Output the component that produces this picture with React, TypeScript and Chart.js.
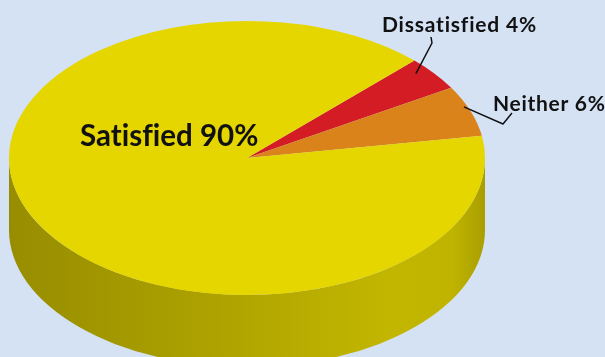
import { useEffect, useRef } from "react";
import { Chart, registerables } from "chart.js";

Chart.register(...registerables);

// ---- data ----
const categories = ["Dissatisfied", "Neither", "Satisfied"];
const percentages = [4, 6, 90];
const labelTexts = ["Dissatisfied 4%", "Neither 6%", "Satisfied 90%"];

// ---- styles / layout ----
const sliceColors = ["#D31C24", "#DA831B", "#E5D600"];
const BG = "#D4E2F4";
const W = 605;
const H = 357;
const ELLIPSE = { cx: 247, cy: 158, rx: 238, ry: 137, depth: 72 };
const ROTATION = 44.7;
// side shading factors along x (left -> right)
const SIDE_STOPS: [number, number][] = [
  [0, 0.66],
  [0.45, 0.76],
  [0.8, 0.85],
  [0.93, 0.84],
  [1, 0.74],
];
// label styling (index matches categories)
const LABEL_FONT_SIZE = [21, 21, 29.5];
const LABEL_SPACING = [0.8, 0.7, 0];
const LABEL_POS: [number, number][] = [
  [382, 32],
  [493, 111],
  [80, 146],
];
// callouts: [angle fraction in slice, radius fraction], then extra polyline points
const CALLOUTS: (null | { af: number; rf: number; pts: [number, number][] })[] = [
  { af: 0.3, rf: 0.94, pts: [[432, 43], [431, 37]] },
  { af: 0.4, rf: 0.985, pts: [[503, 124], [512, 113]] },
  null,
];

function hexToRgb(h: string) {
  const n = parseInt(h.slice(1), 16);
  return [(n >> 16) & 255, (n >> 8) & 255, n & 255];
}

const pie3d = {
  id: "pie3d",
  beforeDatasetsDraw(chart: any) {
    const meta = chart.getDatasetMeta(0);
    const arcs = meta.data;
    if (!arcs.length) return;
    const ctx: CanvasRenderingContext2D = chart.ctx;
    const { cx, cy, rx, ry, depth } = ELLIPSE;
    arcs.forEach((arc: any, i: number) => {
      const { startAngle, endAngle } = arc.getProps(["startAngle", "endAngle"]);
      const [r, g, b] = hexToRgb(sliceColors[i]);
      const grad = ctx.createLinearGradient(cx - rx, 0, cx + rx, 0);
      SIDE_STOPS.forEach(([p, f]) => {
        grad.addColorStop(p, `rgb(${Math.round(r * f)},${Math.round(g * f)},${Math.round(b * f)})`);
      });
      for (let k = -1; k <= 2; k++) {
        const lo = Math.max(startAngle, k * 2 * Math.PI);
        const hi = Math.min(endAngle, k * 2 * Math.PI + Math.PI);
        if (hi > lo) {
          ctx.beginPath();
          ctx.ellipse(cx, cy, rx, ry, 0, lo, hi, false);
          ctx.ellipse(cx, cy + depth, rx, ry, 0, hi, lo, true);
          ctx.closePath();
          ctx.fillStyle = grad;
          ctx.fill();
        }
      }
    });
    const a0 = arcs[0];
    const R = a0.outerRadius;
    ctx.save();
    ctx.translate(cx, cy);
    ctx.scale(rx / R, ry / R);
    ctx.translate(-a0.x, -a0.y);
  },
  afterDatasetsDraw(chart: any) {
    const ctx: CanvasRenderingContext2D = chart.ctx;
    const meta = chart.getDatasetMeta(0);
    if (!meta.data.length) return;
    ctx.restore();
    const { cx, cy, rx, ry } = ELLIPSE;
    meta.data.forEach((arc: any, i: number) => {
      const c = CALLOUTS[i];
      if (c) {
        const { startAngle, endAngle } = arc.getProps(["startAngle", "endAngle"]);
        const t = startAngle + c.af * (endAngle - startAngle);
        const sx = cx + rx * c.rf * Math.cos(t);
        const sy = cy + ry * c.rf * Math.sin(t);
        ctx.save();
        ctx.strokeStyle = "#111";
        ctx.lineWidth = 1.5;
        ctx.lineJoin = "round";
        ctx.beginPath();
        ctx.moveTo(sx, sy);
        c.pts.forEach(([x, y]) => ctx.lineTo(x, y));
        ctx.stroke();
        ctx.restore();
      }
      ctx.save();
      ctx.fillStyle = "#111";
      ctx.font = `bold ${LABEL_FONT_SIZE[i]}px Lato, "Open Sans", sans-serif`;
      (ctx as any).textRendering = "optimizeSpeed";
      (ctx as any).letterSpacing = `${LABEL_SPACING[i]}px`;
      ctx.textAlign = "left";
      ctx.textBaseline = "alphabetic";
      ctx.fillText(labelTexts[i], LABEL_POS[i][0], LABEL_POS[i][1]);
      ctx.restore();
    });
  },
};

export default function App() {
  const ref = useRef<HTMLCanvasElement>(null);
  useEffect(() => {
    if (!ref.current) return;
    const chart = new Chart(ref.current, {
      type: "pie",
      data: {
        labels: categories,
        datasets: [
          {
            data: percentages,
            backgroundColor: sliceColors,
            borderWidth: 0,
            clip: false as any,
          },
        ],
      },
      options: {
        responsive: false,
        animation: false,
        rotation: ROTATION,
        layout: { padding: 0 },
        plugins: {
          legend: { display: false },
          tooltip: { enabled: false },
        },
      },
      plugins: [pie3d],
    });
    return () => chart.destroy();
  }, []);
  return (
    <div style={{ position: "absolute", left: 0, top: 0, width: W, height: H, background: BG, overflow: "hidden" }}>
      <canvas ref={ref} width={W} height={H} style={{ display: "block" }} />
    </div>
  );
}
